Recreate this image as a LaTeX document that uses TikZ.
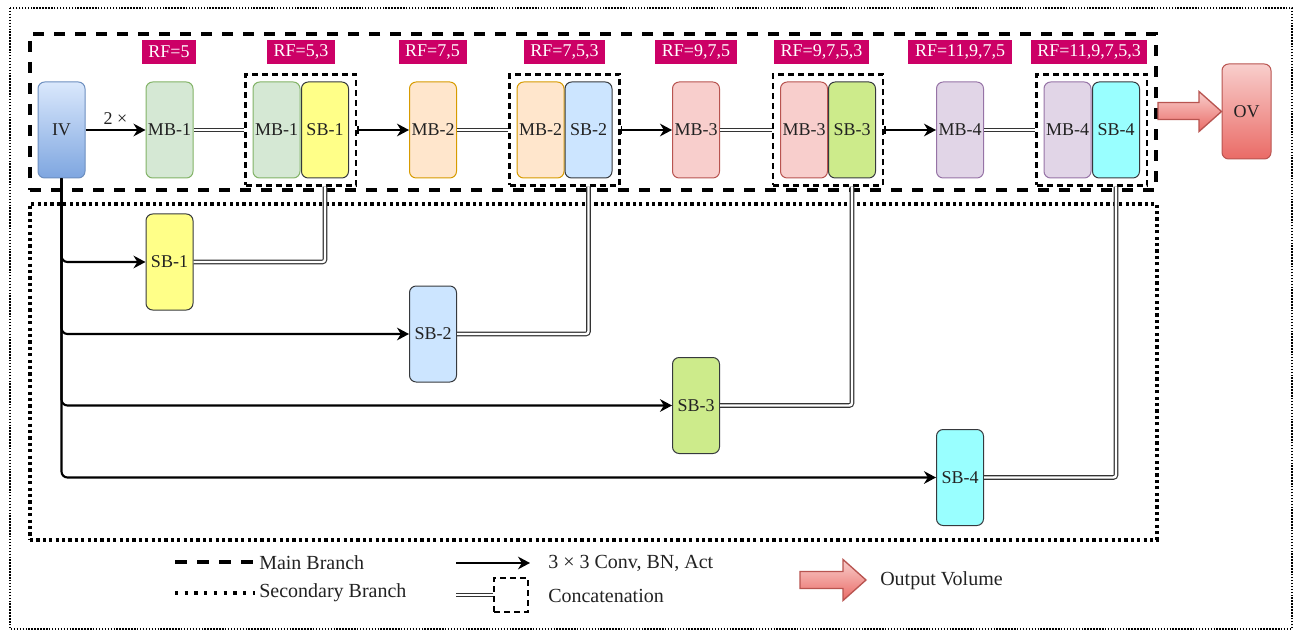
\documentclass[tikz,border=0pt]{standalone}
\usepackage{fontspec}
\setmainfont{Liberation Serif}
\usetikzlibrary{arrows.meta,fit,calc}
\definecolor{txt}{HTML}{222222}
\definecolor{ivtop}{HTML}{DAE8FC}
\definecolor{ivbot}{HTML}{7EA6E0}
\definecolor{ivdraw}{HTML}{6C8EBF}
\definecolor{gfill}{HTML}{D5E8D4}
\definecolor{gdraw}{HTML}{82B366}
\definecolor{ofill}{HTML}{FFE6CC}
\definecolor{odraw}{HTML}{D79B00}
\definecolor{rfill}{HTML}{F8CECC}
\definecolor{rdraw}{HTML}{B85450}
\definecolor{pfill}{HTML}{E1D5E7}
\definecolor{pdraw}{HTML}{9673A6}
\definecolor{sbdraw}{HTML}{36393D}
\definecolor{sbone}{HTML}{FFFF88}
\definecolor{sbtwo}{HTML}{CCE5FF}
\definecolor{sbthree}{HTML}{CDEB8B}
\definecolor{sbfour}{HTML}{99FFFF}
\definecolor{ovtop}{HTML}{F8CECC}
\definecolor{ovbot}{HTML}{EA6B66}
\definecolor{rfcol}{HTML}{CC0066}
\definecolor{dblcol}{HTML}{333333}
\tikzset{
  blk/.style={rounded corners=5pt, minimum width=35.25pt, minimum height=72pt, inner sep=0pt,
    font=\fontsize{13.5}{15}\selectfont, text=txt, line width=0.75pt},
  mbg/.style={blk, fill=gfill, draw=gdraw},
  mbo/.style={blk, fill=ofill, draw=odraw},
  mbr/.style={blk, fill=rfill, draw=rdraw},
  mbp/.style={blk, fill=pfill, draw=pdraw},
  sbbox/.style={blk, draw=sbdraw},
  rflab/.style={fill=rfcol, text=white, font=\fontsize{13.5}{15}\selectfont, inner xsep=5pt,
    minimum height=18pt, inner ysep=0pt},
  catbox/.style={draw=black, line width=1.6pt, dash pattern=on 4.5pt off 3pt, inner sep=5.25pt},
  mainpat/.style={line width=3pt, dash pattern=on 8.25pt off 7.5pt},
  secpat/.style={line width=2.4pt, dash pattern=on 2.4pt off 2.4pt},
  mainbox/.style={draw=black, mainpat, inner sep=0pt},
  secbox/.style={draw=black, secpat, inner sep=0pt},
  conn/.style={line width=1.6pt, -{Stealth[length=9pt,width=9.5pt]}},
  catconn/.style={line width=1.6pt, {Bar[width=6pt,line width=1.2pt]}-{Stealth[length=9pt,width=9.5pt]}},
  dbl/.style={draw=dblcol, line width=0.85pt, double=white, double distance=1.8pt},
  legtext/.style={font=\fontsize{15}{17}\selectfont, text=txt, inner sep=0pt, anchor=west},
  fatarrow/.style={top color=ovtop, bottom color=ovbot, draw=rdraw, line width=1pt, line join=miter},
}
\begin{document}
\begin{tikzpicture}[x=0.75pt,y=-0.75pt]
\useasboundingbox (0,0) rectangle (1303,631);
% outer frame
\draw[line width=1.1pt, dash pattern=on 1.1pt off 1.1pt] (10,8) rectangle (1292,629);
% branch boxes
\node[mainbox, minimum width=844.5pt, minimum height=117pt] (mainbox) at (593,112) {};
\node[secbox, minimum width=845.25pt, minimum height=252pt] (secbox) at (593.5,372) {};
% RF labels
\node[rflab] (rf1) at (169,52) {RF=5};
\node[rflab] (rf2) at (301,52) {RF=5,3};
\node[rflab] (rf3) at (432.5,52) {RF=7,5};
\node[rflab] (rf4) at (564.5,52) {RF=7,5,3};
\node[rflab] (rf5) at (696,52) {RF=9,7,5};
\node[rflab] (rf6) at (821.5,52) {RF=9,7,5,3};
\node[rflab] (rf7) at (960,52) {RF=11,9,7,5};
\node[rflab] (rf8) at (1089,52) {RF=11,9,7,5,3};
% main row
\node[blk, draw=ivdraw, top color=ivtop, bottom color=ivbot] (IV) at (61.5,130) {IV};
\node[mbg] (MBa) at (169.5,130) {MB-1};
\node[mbg] (MBab) at (276.5,130) {MB-1};
\node[sbbox, fill=sbone] (SBau) at (325,130) {SB-1};
\node[mbo] (MBb) at (433,130) {MB-2};
\node[mbo] (MBbb) at (540.5,130) {MB-2};
\node[sbbox, fill=sbtwo] (SBbu) at (588.5,130) {SB-2};
\node[mbr] (MBc) at (696,130) {MB-3};
\node[mbr] (MBcb) at (804,130) {MB-3};
\node[sbbox, fill=sbthree] (SBcu) at (852,130) {SB-3};
\node[mbp] (MBd) at (960,130) {MB-4};
\node[mbp] (MBdb) at (1067.5,130) {MB-4};
\node[sbbox, fill=sbfour] (SBdu) at (1116,130) {SB-4};
\node[catbox, fit=(MBab)(SBau)] (cata) {};
\node[catbox, fit=(MBbb)(SBbu)] (catb) {};
\node[catbox, fit=(MBcb)(SBcu)] (catc) {};
\node[catbox, fit=(MBdb)(SBdu)] (catd) {};
\node[blk, minimum height=71.25pt, minimum width=36.75pt, draw=rdraw, top color=ovtop, bottom color=ovbot] (OV) at (1246.5,111.5) {OV};
% secondary row
\node[sbbox, fill=sbone] (SBal) at (169.5,262) {SB-1};
\node[sbbox, fill=sbtwo] (SBbl) at (433,334) {SB-2};
\node[sbbox, fill=sbthree] (SBcl) at (696,405.5) {SB-3};
\node[sbbox, fill=sbfour] (SBdl) at (960,477.5) {SB-4};
% main connectors
\draw[conn] (IV) -- node[above=3pt, font=\fontsize{13.5}{15}\selectfont, text=txt, inner sep=0pt] (twox) {2 ×} (MBa);
\draw[dbl] (MBa) -- (cata);
\draw[catconn] (cata) -- (MBb);
\draw[dbl] (MBb) -- (catb);
\draw[catconn] (catb) -- (MBc);
\draw[dbl] (MBc) -- (catc);
\draw[catconn] (catc) -- (MBd);
\draw[dbl] (MBd) -- (catd);
% secondary connectors
\foreach \t in {SBal,SBbl,SBcl,SBdl}{
  \draw[conn, rounded corners=4.5pt] (IV.south) |- (\t.west);
}
\draw[dbl, rounded corners=2pt] (SBal.east) -| (SBau.south |- cata.south);
\draw[dbl, rounded corners=2pt] (SBbl.east) -| (SBbu.south |- catb.south);
\draw[dbl, rounded corners=2pt] (SBcl.east) -| (SBcu.south |- catc.south);
\draw[dbl, rounded corners=2pt] (SBdl.east) -| (SBdu.south |- catd.south);
% output arrow
\coordinate (oa) at (mainbox.east |- OV.west);
\draw[fatarrow] (oa) ++(0,-9) -- ++(41,0) -- ++(0,-11) -- (OV.west) -- ($(oa)+(41,20)$) -- ++(0,-12) -- ++(-41,0) -- cycle;
% legend
\coordinate (lma) at (175,562); \coordinate (lmb) at (255,562);
\draw[line width=3pt, dash pattern=on 9pt off 7.5pt] (lma) -- (lmb);
\node[legtext] (lmt) at (259,563) {Main Branch};
\coordinate (lsa) at (175,593); \coordinate (lsb) at (255,593);
\draw[line width=2.4pt, dash pattern=on 2.4pt off 4.9pt] (lsa) -- (lsb);
\node[legtext] (lst) at (259,593) {Secondary Branch};
\coordinate (laa) at (456,563); \coordinate (lab) at (530,563);
\draw[conn] (laa) -- (lab);
\node[legtext] (lat) at (548,563) {3 × 3 Conv, BN, Act};
\node[draw=black, line width=1.6pt, dash pattern=on 4.5pt off 3pt, minimum width=25pt, minimum height=26pt, inner sep=0pt] (lcbox) at (511,595) {};
\coordinate (lca) at (456,595);
\draw[dbl] (lca) -- (lcbox.west);
\node[legtext] (lct) at (548,596) {Concatenation};
\coordinate (loa) at (800,580);
\coordinate (lob) at (866,580);
\draw[fatarrow] (loa) ++(0,-8.5) -- ++(43,0) -- ++(0,-12) -- (lob) -- ($(loa)+(43,20.5)$) -- ++(0,-12) -- ++(-43,0) -- cycle;
\node[legtext] (lot) at (880,581) {Output Volume};
\end{tikzpicture}
\end{document}
